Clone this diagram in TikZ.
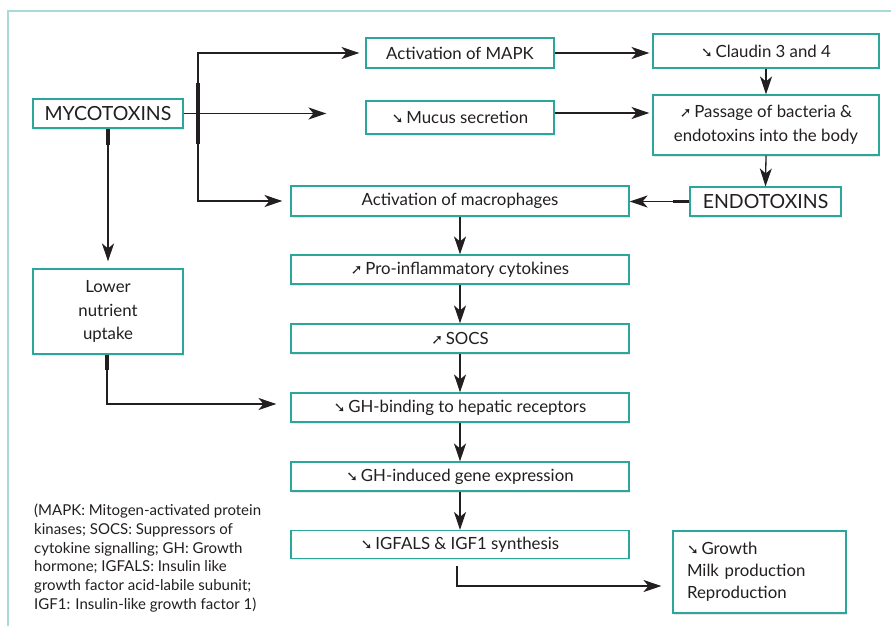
\documentclass[tikz,border=0pt]{standalone}
\usepackage{fontspec}
\setmainfont{Lato}
\newfontfamily\symf{DejaVu Sans}
\usetikzlibrary{arrows.meta,shadows,calc}
\definecolor{teal1}{HTML}{2AA69A}
\definecolor{frame1}{HTML}{A8DAD6}
\definecolor{ink}{HTML}{231F20}
\newcommand{\dnarr}{{\symf\bfseries\fontsize{14}{14}\selectfont ➘}\,}
\newcommand{\uparr}{{\symf\bfseries\fontsize{14}{14}\selectfont ➚}\,}
\begin{document}
\begin{tikzpicture}[x=1pt,y=-1pt,
  box/.style={draw=teal1, line width=1.1pt, fill=white, text=ink, inner sep=0pt, align=center,
    font=\fontsize{16.8}{23.5}\selectfont,
    drop shadow={shadow xshift=1pt, shadow yshift=-1.5pt, opacity=0.18}},
  bigfont/.style={font=\fontsize{19.5}{22}\selectfont},
  wide/.style={minimum width=338pt, minimum height=29pt},
  arr/.style={draw=ink, line width=1.3pt, -{Stealth[length=18pt,width=12pt,inset=5pt]}},
  stub/.style={draw=ink, line width=3.5pt}]
\useasboundingbox (0,0) rectangle (891,626);
\fill[white] (0,0) rectangle (891,626);
\draw[frame1, line width=1.5pt] (8,630) -- (8,11) -- (895,11);

\node[box, bigfont, minimum width=150pt, minimum height=29pt] (myco) at (108,113.5) {MYCOTOXINS};
\node[box, minimum width=188pt, minimum height=30pt] (mapk) at (460,53) {Activation of MAPK};
\node[box, minimum width=188pt, minimum height=33pt] (mucus) at (460,117.5) {\dnarr Mucus secretion};
\node[box, minimum width=226pt, minimum height=34pt] (claudin) at (766,51) {\dnarr Claudin 3 and 4};
\node[box, minimum width=226pt, minimum height=60pt] (passage) at (766,125) {\uparr Passage of bacteria \&\\endotoxins into the body};
\node[box, bigfont, minimum width=151pt, minimum height=29pt] (endo) at (765.5,201.5) {ENDOTOXINS};
\node[box, wide, minimum height=30pt] (macro) at (460,201) {Activation of macrophages};
\node[box, wide] (pro) at (460,269.5) {\uparr Pro-inflammatory cytokines};
\node[box, wide] (socs) at (460,338.5) {\uparr SOCS};
\node[box, wide] (ghb) at (460,407.5) {\dnarr GH-binding to hepatic receptors};
\node[box, wide] (ghi) at (460,476.5) {\dnarr GH-induced gene expression};
\node[box, wide, minimum height=28pt] (igf) at (460,544.5) {\dnarr IGFALS \& IGF1 synthesis};
\node[box, minimum width=150pt, minimum height=85pt] (lower) at (108,311.5) {Lower\\nutrient\\uptake};
\node[box, align=left, inner xsep=14pt, text width=145pt, minimum height=82pt, font=\fontsize{16.8}{22}\selectfont] (growth) at (759.5,572) {\dnarr Growth\\Milk production\\Reproduction};

\node[anchor=north west, inner sep=0pt, text=ink, align=left, font=\fontsize{15}{18.7}\selectfont] (legend) at (34,504)
  {(MAPK: Mitogen-activated protein\\kinases; SOCS: Suppressors of\\cytokine signalling; GH: Growth\\hormone; IGFALS: Insulin like\\growth factor acid-labile subunit;\\IGF1: Insulin-like growth factor 1)};

% connectors
\coordinate (bx) at (198,113.5);
\draw[arr, shorten >=39pt] (myco.east) -- (myco.east -| mucus.west);
\draw[arr, shorten >=6pt] (bx) |- (mapk.west);
\draw[arr, shorten >=8pt] (bx) |- (macro.west);
\draw[stub] ($(bx)+(0,-30.5)$) -- ($(bx)+(0,30.5)$);

\draw[arr, shorten >=3pt] (mapk.east) -- (mapk.east -| claudin.west);
\draw[arr, shorten >=3pt] ($(mucus.east)+(0,-4.5)$) -- ($(mucus.east -| passage.west)+(0,-4.5)$);
\draw[arr] (claudin.south) -- (passage.north);
\draw[arr] (passage.south) -- (endo.north);
\draw[arr] (endo.west) -- (endo.west -| macro.east);
\draw[stub] (endo.west) -- ++(-16,0);

\draw[arr] (macro.south) -- (pro.north);
\draw[arr] (pro.south) -- (socs.north);
\draw[arr] (socs.south) -- (ghb.north);
\draw[arr] (ghb.south) -- (ghi.north);
\draw[arr] (ghi.south) -- (igf.north);

\draw[arr, shorten >=7pt] (myco.south) -- (lower.north);
\draw[stub] (myco.south) -- ++(0,16);
\draw[arr, shorten >=14pt] ($(lower.south)+(-1,0)$) |- ($(ghb.west)+(0,-3.5)$);
\draw[stub] ($(lower.south)+(-1,0)$) -- ++(0,15);
\draw[arr, shorten <=7pt, shorten >=11pt] ($(igf.south)+(-3,0)$) |- ($(growth.west)+(0,14)$);
\draw[stub, line width=2.5pt] ($(igf.south)+(-3,7)$) -- ++(0,10);
\end{tikzpicture}
\end{document}
